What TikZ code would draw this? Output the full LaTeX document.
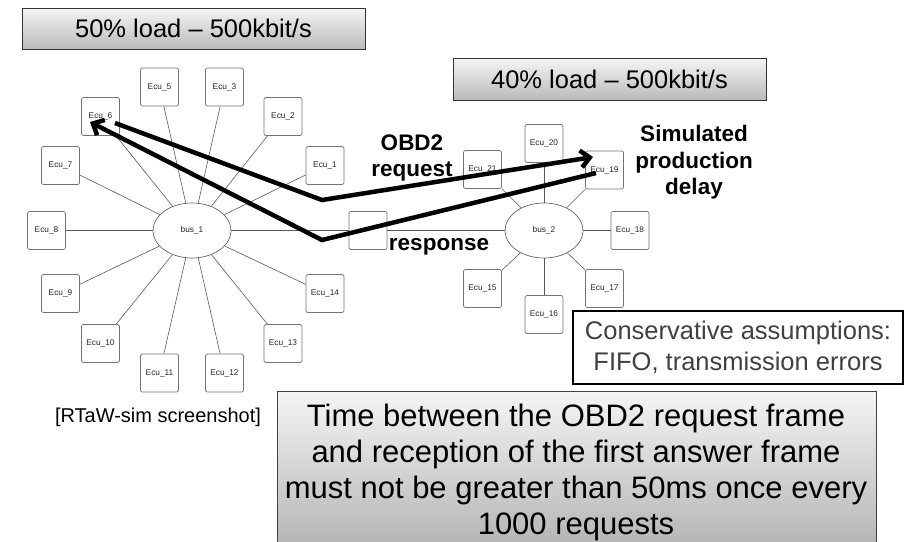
\documentclass[tikz,border=0pt]{standalone}
\usepackage{fontspec}
\setmainfont{Liberation Sans}
\usetikzlibrary{arrows.meta,shapes.geometric,calc}
\begin{document}
\begin{tikzpicture}[x=1pt,y=-1pt,
  ecu/.style={draw=black!55, line width=0.7pt, fill=white, rounded corners=2pt,
    minimum width=38pt, minimum height=38pt, inner sep=0pt,
    font=\fontsize{8.3}{10}\selectfont, text=black!85},
  bus/.style={ellipse, draw=black!60, line width=0.7pt, fill=white,
    minimum width=78pt, minimum height=55pt, inner sep=0pt,
    font=\fontsize{8.3}{10}\selectfont, text=black!85},
  link/.style={draw=black!65, line width=0.6pt},
  titlebox/.style={draw=black!80, line width=0.8pt, top color=black!4, bottom color=black!27,
    inner sep=0pt, font=\fontsize{25.5}{29}\selectfont},
  boldtext/.style={font=\bfseries\fontsize{22.5}{26.5}\selectfont, align=center, inner sep=0pt},
  bigarrow/.style={line width=4.5pt, line join=miter, -{Straight Barb[length=9pt,width=17pt]}},
]
\clip (0,0) rectangle (912,541);

% titles
\node[titlebox, minimum width=343pt, minimum height=41pt] (t1) at (193.5,28.5) {50\% load – 500kbit/s};
\node[titlebox, minimum width=313pt, minimum height=42pt] (t2) at (609.5,79) {40\% load – 500kbit/s};

% bus 1 network
\node[bus] (bus1) at (192,230.5) {bus\_1};
\node[ecu] (ecu5) at (159.5,87) {Ecu\_5};
\node[ecu] (ecu3) at (224.5,87) {Ecu\_3};
\node[ecu] (ecu6) at (100.5,116.5) {Ecu\_6};
\node[ecu] (ecu2) at (283,116.5) {Ecu\_2};
\node[ecu] (ecu7) at (60.5,165.5) {Ecu\_7};
\node[ecu] (ecu1) at (325,165.5) {Ecu\_1};
\node[ecu] (ecu8) at (46.5,230.5) {Ecu\_8};
\node[ecu] (ecu9) at (60.5,293.5) {Ecu\_9};
\node[ecu] (ecu14) at (325,293.5) {Ecu\_14};
\node[ecu] (ecu10) at (100.5,343.5) {Ecu\_10};
\node[ecu] (ecu13) at (283,343.5) {Ecu\_13};
\node[ecu] (ecu11) at (159.5,373) {Ecu\_11};
\node[ecu] (ecu12) at (224.5,373) {Ecu\_12};
\node[ecu] (gw) at (368,230.5) {};

% bus 2 network
\node[bus] (bus2) at (544,230.5) {bus\_2};
\node[ecu] (ecu20) at (544,143.5) {Ecu\_20};
\node[ecu] (ecu21) at (482.5,169.5) {Ecu\_21};
\node[ecu] (ecu19) at (604.5,170) {Ecu\_19};
\node[ecu] (ecu18) at (630,230.5) {Ecu\_18};
\node[ecu] (ecu15) at (482.5,288.5) {Ecu\_15};
\node[ecu] (ecu17) at (604.5,288.5) {Ecu\_17};
\node[ecu] (ecu16) at (544,314.5) {Ecu\_16};

\foreach \e in {ecu1,ecu2,ecu3,ecu5,ecu6,ecu7,ecu8,ecu9,ecu10,ecu11,ecu12,ecu13,ecu14}
  \draw[link] (\e) -- (bus1);
\foreach \e in {ecu15,ecu16,ecu17,ecu18,ecu19,ecu20,ecu21}
  \draw[link] (\e) -- (bus2);
\draw[link] (bus1) -- (gw);
\draw[link] (gw) -- (bus2);

% thick arrows
\coordinate (reqS) at (115,123);
\coordinate (reqV) at (322,200);
\coordinate (reqT) at (593,157);
\coordinate (resS) at (596,173);
\coordinate (resV) at (322,240);
\coordinate (resT) at (90,122);
\draw[bigarrow] (reqS) -- (reqV) -- (reqT);
\draw[bigarrow] (resS) -- (resV) -- (resT);

% labels
\node[boldtext] (obd) at (412,158) {OBD2\\request};
\node[boldtext] (resp) at (439,247) {response};
\node[boldtext] (sim) at (694,162.5) {Simulated\\production\\delay};

\node[draw=black, line width=2.2pt, fill=white, minimum width=330pt, minimum height=73pt,
  text=black!75, align=center, inner sep=0pt, font=\fontsize{25.5}{31}\selectfont]
  (cons) at (738,347.5) {Conservative assumptions:\\FIFO, transmission errors};

\node[inner sep=0pt, font=\fontsize{20}{24}\selectfont] (cap) at (158,417) {[RTaW-sim screenshot]};

\node[draw=black!75, line width=0.8pt, top color=black!4, bottom color=black!29,
  minimum width=599pt, minimum height=154pt, inner sep=0pt] (reqbox) at (576.5,468) {};
\node[align=center, inner sep=0pt, font=\fontsize{31}{36}\selectfont] (reqtext) at (576,472)
  {Time between the OBD2 request frame\\and reception of the first answer frame\\must not be greater than 50ms once every\\1000 requests};
\end{tikzpicture}
\end{document}
